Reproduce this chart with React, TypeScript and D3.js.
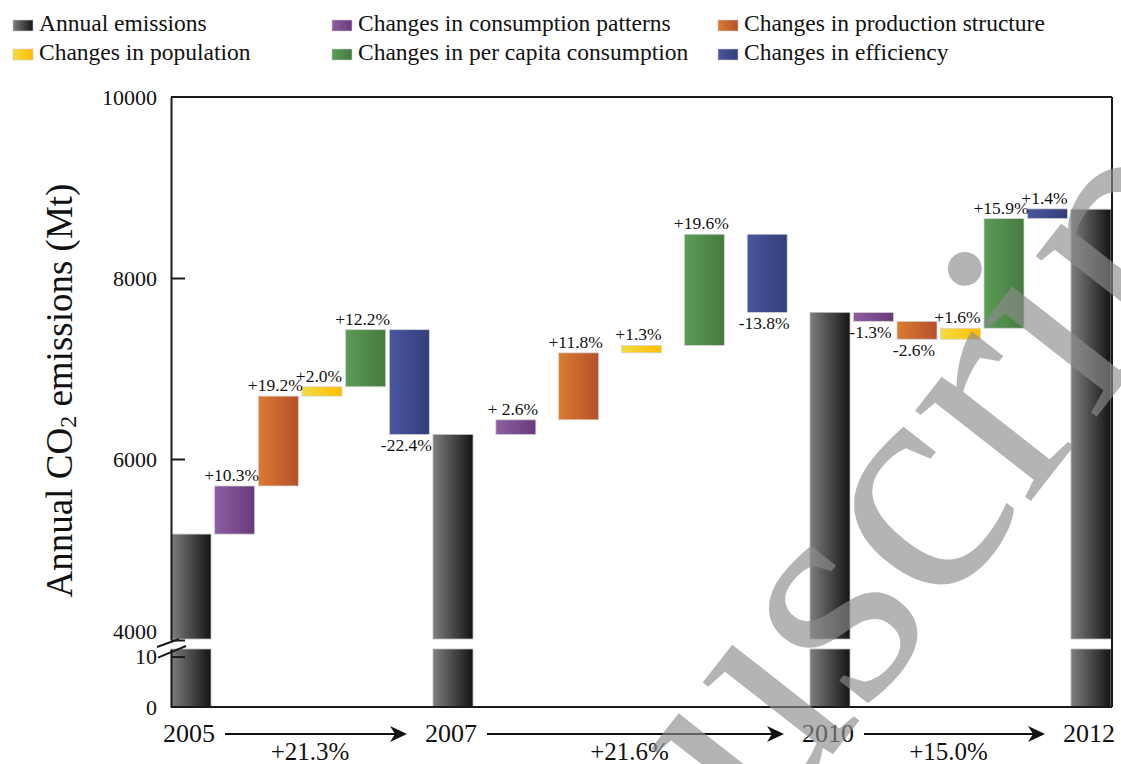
import React, { useEffect, useRef } from "react";
import * as d3 from "d3";

// years with an annual emissions bar
const years = [2005, 2007, 2010, 2012];
const annualEmissions = [5170, 6270, 7620, 8760];

// decomposition factors, in drawing order inside each period
const factorKeys = ["consumption", "production", "population", "perCapita", "efficiency"];

// change of each factor over a period (Mt)
const changes2005to2007 = [532, 993, 103, 631, -1158];
const changes2007to2010 = [163, 740, 82, 1229, -865];
const changes2010to2012 = [-99, -198, 122, 1212, 107];

const labels2005to2007 = ["+10.3%", "+19.2%", "+2.0%", "+12.2%", "-22.4%"];
const labels2007to2010 = ["+ 2.6%", "+11.8%", "+1.3%", "+19.6%", "-13.8%"];
const labels2010to2012 = ["-1.3%", "-2.6%", "+1.6%", "+15.9%", "+1.4%"];

const periodGrowth = ["+21.3%", "+21.6%", "+15.0%"];

const upperTicks = [4000, 6000, 8000, 10000];
const lowerTicks = [0, 10];

const legendKeys = ["annual", "consumption", "production", "population", "perCapita", "efficiency"];
const legendNames = [
  "Annual emissions",
  "Changes in consumption patterns",
  "Changes in production structure",
  "Changes in population",
  "Changes in per capita consumption",
  "Changes in efficiency",
];

const palette: Record<string, [string, string]> = {
  annual: ["#7e7e7e", "#141414"],
  consumption: ["#8d5ea2", "#683b7c"],
  production: ["#db7b31", "#b4502b"],
  population: ["#f2db43", "#ffbd00"],
  perCapita: ["#5b9d56", "#457a3f"],
  efficiency: ["#4a56a1", "#333e77"],
};

const W = 1121;
const H = 764;
const FONT = "'Liberation Serif', 'Times New Roman', serif";

const App: React.FC = () => {
  const ref = useRef<SVGSVGElement | null>(null);

  useEffect(() => {
    if (!ref.current) return;
    const svg = d3.select(ref.current);
    svg.selectAll("*").remove();

    const left = 171;
    const right = 1112;
    const top = 97;
    const bottom = 707;
    const barW = 40;

    // the source figure does not space its years evenly, so a piecewise scale
    const x = d3.scaleLinear().domain(years).range([left, 433, 810, right - barW - 1]);
    const yUp = d3.scaleLinear().domain([4000, 10000]).range([640, top]);
    const yLow = d3.scaleLinear().domain([0, 11.5]).range([bottom, 649]);

    // gradients
    const defs = svg.append("defs");
    Object.entries(palette).forEach(([k, [c0, c1]]) => {
      const g = defs
        .append("linearGradient")
        .attr("id", `grad-${k}`)
        .attr("x1", 0)
        .attr("x2", 1)
        .attr("y1", 0)
        .attr("y2", 0);
      g.append("stop").attr("offset", "0%").attr("stop-color", c0);
      g.append("stop").attr("offset", "100%").attr("stop-color", c1);
    });

    // build waterfall
    const periods = [changes2005to2007, changes2007to2010, changes2010to2012];
    const periodLabels = [labels2005to2007, labels2007to2010, labels2010to2012];
    const steps: { key: string; t: number; from: number; to: number; label: string }[] = [];
    years.slice(0, -1).forEach((yr, i) => {
      let level = annualEmissions[i];
      periods[i].forEach((d, k) => {
        const t = yr + ((years[i + 1] - yr) * (k + 1)) / 6;
        steps.push({ key: factorKeys[k], t, from: level, to: level + d, label: periodLabels[i][k] });
        level += d;
      });
    });

    const plot = svg.append("g");

    // annual bars, drawn in two pieces around the axis break
    const annual = years.map((yr, i) => ({ yr, v: annualEmissions[i] }));
    plot
      .selectAll(".annual-up")
      .data(annual)
      .enter()
      .append("rect")
      .attr("x", (d) => x(d.yr))
      .attr("y", (d) => yUp(d.v))
      .attr("width", barW)
      .attr("height", (d) => yUp(4000) - yUp(d.v) - 1)
      .attr("fill", "url(#grad-annual)")
      .attr("stroke", "#bbb")
      .attr("stroke-width", 0.8);
    plot
      .selectAll(".annual-low")
      .data(annual)
      .enter()
      .append("rect")
      .attr("x", (d) => x(d.yr))
      .attr("y", yLow(11.5))
      .attr("width", barW)
      .attr("height", yLow(0) - yLow(11.5))
      .attr("fill", "url(#grad-annual)")
      .attr("stroke", "#bbb")
      .attr("stroke-width", 0.8);

    // change bars
    plot
      .selectAll(".step")
      .data(steps)
      .enter()
      .append("rect")
      .attr("x", (d) => x(d.t))
      .attr("y", (d) => yUp(Math.max(d.from, d.to)))
      .attr("width", barW)
      .attr("height", (d) => Math.abs(yUp(d.from) - yUp(d.to)))
      .attr("fill", (d) => `url(#grad-${d.key})`)
      .attr("stroke", "#d4d4d4")
      .attr("stroke-width", 0.8);

    plot
      .selectAll(".step-label")
      .data(steps)
      .enter()
      .append("text")
      .attr("x", (d) => x(d.t) + barW / 2 - 3)
      .attr("y", (d) => (d.to >= d.from ? yUp(d.to) - 5 : yUp(d.to) + 17))
      .attr("text-anchor", "middle")
      .attr("font-family", FONT)
      .attr("font-size", 17.5)
      .attr("fill", "#111")
      .text((d) => d.label);

    // frame
    const frame = svg.append("g").attr("stroke", "#1a1a1a").attr("stroke-width", 2).attr("fill", "none");
    frame.append("line").attr("x1", left).attr("x2", right).attr("y1", top).attr("y2", top);
    frame.append("line").attr("x1", right).attr("x2", right).attr("y1", top).attr("y2", bottom);
    frame.append("line").attr("x1", left).attr("x2", right).attr("y1", bottom).attr("y2", bottom);

    // y axes (upper and lower segment)
    const styleAxis = (g: d3.Selection<SVGGElement, unknown, null, undefined>) => {
      g.select(".domain").attr("stroke", "#1a1a1a").attr("stroke-width", 2);
      g.selectAll(".tick line").attr("stroke", "#1a1a1a").attr("stroke-width", 2);
      g.selectAll(".tick text")
        .attr("font-family", FONT)
        .attr("font-size", 22)
        .attr("fill", "#111");
    };
    const upAxis = svg
      .append("g")
      .attr("transform", `translate(${left},0)`)
      .call(
        d3
          .axisLeft(yUp)
          .tickValues(upperTicks)
          .tickSizeInner(-14)
          .tickSizeOuter(0)
          .tickPadding(14)
          .tickFormat(d3.format("d"))
      );
    styleAxis(upAxis);
    upAxis
      .selectAll<SVGTextElement, number>(".tick text")
      .filter((d) => d === 4000)
      .attr("dy", "-0.05em");
    upAxis
      .selectAll<SVGLineElement, number>(".tick line")
      .filter((d) => d === 10000)
      .remove();

    const lowAxis = svg
      .append("g")
      .attr("transform", `translate(${left},0)`)
      .call(
        d3
          .axisLeft(yLow)
          .tickValues(lowerTicks)
          .tickSizeInner(-14)
          .tickSizeOuter(0)
          .tickPadding(14)
          .tickFormat(d3.format("d"))
      );
    styleAxis(lowAxis);
    lowAxis
      .selectAll<SVGLineElement, number>(".tick line")
      .filter((d) => d === 0)
      .remove();

    // break marks
    const brk = svg.append("g").attr("stroke", "#1a1a1a").attr("stroke-width", 2);
    brk.append("line").attr("x1", left - 14).attr("y1", yUp(4000) + 7).attr("x2", left + 8).attr("y2", yUp(4000) - 1);
    brk.append("line").attr("x1", left - 13).attr("y1", yLow(10) + 1).attr("x2", left + 15).attr("y2", yLow(11.5) - 3);

    // y title
    svg
      .append("text")
      .attr("transform", `translate(72,${(yUp(4000) + yUp(10000)) / 2 + 22}) rotate(-90)`)
      .attr("text-anchor", "middle")
      .attr("font-family", FONT)
      .attr("font-size", 37)
      .attr("fill", "#111")
      .call((t) => {
        t.append("tspan").text("Annual CO");
        t.append("tspan").attr("font-size", 24).attr("dy", 4).text("2");
        t.append("tspan").attr("dy", -4).text(" emissions (Mt)");
      });

    // year labels and growth arrows
    const center = (yr: number) => x(yr) + barW / 2;
    svg
      .selectAll(".year")
      .data(years)
      .enter()
      .append("text")
      .attr("x", (d) => center(d) - 2)
      .attr("y", 742)
      .attr("text-anchor", "middle")
      .attr("font-family", FONT)
      .attr("font-size", 26)
      .attr("fill", "#111")
      .text((d) => String(d));

    const arrows = svg.append("g");
    years.slice(0, -1).forEach((yr, i) => {
      const x0 = center(yr) + 34;
      const x1 = center(years[i + 1]) - 46;
      const ay = 734;
      arrows
        .append("line")
        .attr("x1", x0)
        .attr("x2", x1 - 8)
        .attr("y1", ay)
        .attr("y2", ay)
        .attr("stroke", "#111")
        .attr("stroke-width", 2);
      arrows
        .append("path")
        .attr("d", `M${x1},${ay} L${x1 - 17},${ay - 8} L${x1 - 12},${ay} L${x1 - 17},${ay + 8} Z`)
        .attr("fill", "#111");
      arrows
        .append("text")
        .attr("x", (x0 + x1) / 2 - 6)
        .attr("y", 760)
        .attr("text-anchor", "middle")
        .attr("font-family", FONT)
        .attr("font-size", 25)
        .attr("fill", "#111")
        .text(periodGrowth[i]);
    });

    // legend
    const legendCols = [13, 332, 718];
    const legendRows = [31, 60];
    const legend = svg.append("g");
    legendKeys.forEach((k, i) => {
      const lx = legendCols[i % 3];
      const ly = legendRows[Math.floor(i / 3)];
      legend
        .append("rect")
        .attr("x", lx)
        .attr("y", ly - 11)
        .attr("width", 20)
        .attr("height", 11)
        .attr("fill", `url(#grad-${k})`)
        .attr("stroke", "#ccc")
        .attr("stroke-width", 0.6);
      legend
        .append("text")
        .attr("x", lx + 26)
        .attr("y", ly)
        .attr("font-family", FONT)
        .attr("font-size", 23.5)
        .attr("fill", "#111")
        .text(legendNames[i]);
    });

    // watermark
    svg
      .append("text")
      .attr("transform", "translate(666,968) rotate(-52)")
      .attr("dx", -427)
      .attr("font-family", FONT)
      .attr("font-size", 320)
      .attr("fill", "#8c8c8c")
      .attr("fill-opacity", 0.65)
      .text("Manuscript");
  }, []);

  return (
    <div style={{ position: "absolute", left: 0, top: 0 }}>
      <svg ref={ref} width={W} height={H} style={{ display: "block", background: "#fff" }}></svg>
    </div>
  );
};

export default App;
